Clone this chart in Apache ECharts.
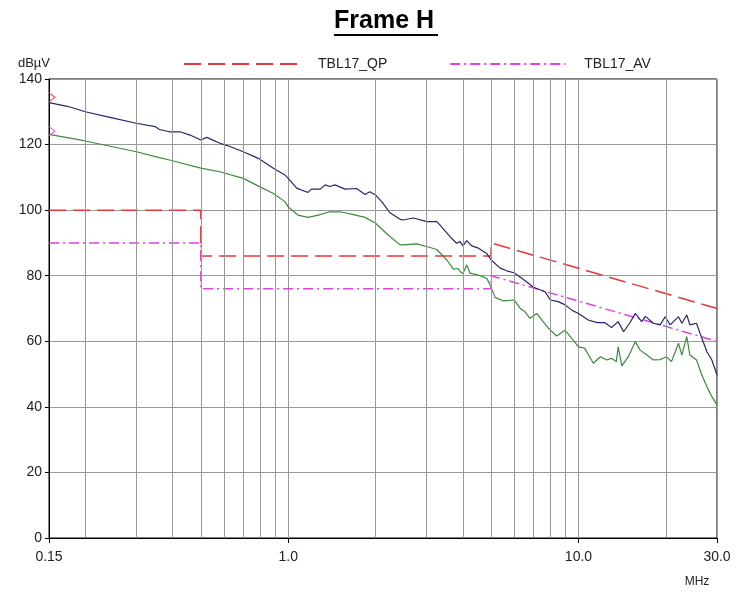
<!DOCTYPE html>
<html>
<head>
<meta charset="utf-8">
<title>Frame H</title>
<script src="https://cdn.jsdelivr.net/npm/echarts@6/dist/echarts.min.js"></script>
<style>
  html, body { margin: 0; padding: 0; background: #fff; }
  #chart { width: 740px; height: 592px; }
</style>
</head>
<body>
<div id="chart"></div>
<script>
// x: frequency (MHz, log), y: level (dBuV)
const xTickLabels = ['0.15', '1.0', '10.0', '30.0'];
const minorFreqs = [0.2, 0.3, 0.4, 0.5, 0.6, 0.7, 0.8, 0.9, 2, 3, 4, 5, 6, 7, 8, 9, 20];

// limit lines
const qpFreq = [0.15, 0.5, 0.5, 5, 5, 30];
const qpLevel = [100, 100, 86, 86, 90, 70];
const avFreq = [0.15, 0.5, 0.5, 5, 5, 30];
const avLevel = [90, 90, 76, 76, 80, 60];

// measured traces
const peakFreq = [0.15, 0.175, 0.2, 0.243, 0.3, 0.348, 0.36, 0.39, 0.424, 0.459, 0.5, 0.524, 0.582, 0.606, 0.63,
  0.7, 0.789, 0.8, 0.889, 0.975, 1.0, 1.07, 1.17, 1.2, 1.29, 1.34, 1.39, 1.45, 1.57, 1.72, 1.84, 1.91, 2.0,
  2.1, 2.24, 2.43, 2.49, 2.7, 3.0, 3.25, 3.33, 3.61, 3.8, 3.91, 4.0, 4.12, 4.29, 4.52, 4.83, 5.0, 5.37, 5.66,
  6.0, 6.38, 6.72, 7.0, 7.67, 8.0, 8.52, 9.0, 9.48, 10.0, 10.8, 11.6, 12.3, 13.0, 13.7, 14.3, 15.0, 15.7,
  16.5, 17.0, 18.1, 19.1, 19.9, 20.7, 22.1, 22.7, 23.6, 24.2, 25.5, 26.6, 27.7, 28.8, 30];
const peakLevel = [132.8, 131.6, 130.0, 128.3, 126.5, 125.5, 124.6, 123.9, 123.9, 122.9, 121.4, 122.2, 120.4, 119.9, 119.4,
  117.8, 115.8, 116.3, 112.8, 110.7, 109.7, 106.7, 105.4, 106.4, 106.4, 107.7, 107.2, 107.7, 106.4, 106.6, 104.8, 105.6, 104.6,
  102.6, 99.2, 97.2, 97.0, 97.6, 96.5, 96.5, 95.5, 91.9, 89.9, 90.4, 89.1, 90.7, 89.1, 88.4, 86.8, 84.8, 82.3, 81.5,
  80.9, 79.2, 77.7, 76.5, 75.1, 72.6, 72.1, 71.1, 69.5, 68.5, 66.5, 65.7, 65.7, 64.2, 66.0, 62.9, 65.5, 68.5,
  66.0, 67.6, 65.5, 65.0, 67.5, 65.0, 67.5, 65.5, 68.0, 65.0, 65.5, 60.9, 56.8, 54.3, 49.7];

const avgFreq = [0.15, 0.2, 0.3, 0.36, 0.39, 0.5, 0.582, 0.7, 0.8, 0.889, 0.975, 1.0, 1.08, 1.17, 1.27, 1.39, 1.51,
  1.65, 1.84, 2.0, 2.21, 2.43, 2.49, 2.77, 3.0, 3.25, 3.52, 3.71, 3.85, 3.91, 4.0, 4.12, 4.23, 4.52, 4.83, 4.96,
  5.16, 5.51, 6.0, 6.29, 6.54, 6.81, 7.18, 7.47, 7.87, 8.41, 8.98, 9.48, 10.0, 10.5, 11.25, 11.9, 12.5, 13.0,
  13.5, 13.7, 14.1, 14.85, 15.7, 16.3, 17.2, 18.1, 19.1, 20.1, 20.9, 22.1, 22.7, 23.6, 24.2, 25.5, 26.6, 27.7, 28.8, 30];
const avgLevel = [123.1, 121.1, 117.8, 116.0, 115.3, 112.8, 111.7, 109.7, 107.1, 105.1, 102.6, 101.0, 98.5, 97.8, 98.5, 99.5, 99.5,
  98.8, 97.8, 96.0, 92.4, 89.4, 89.4, 89.7, 88.9, 88.0, 84.8, 82.0, 82.2, 81.3, 80.7, 83.3, 80.8, 80.2, 79.2, 77.2,
  73.4, 72.3, 72.6, 70.1, 69.0, 67.0, 68.5, 66.5, 64.0, 61.6, 63.4, 60.9, 58.3, 57.9, 53.3, 55.3, 54.3, 54.8,
  53.8, 58.3, 52.5, 55.3, 59.9, 57.3, 55.8, 54.3, 54.4, 55.3, 53.8, 59.4, 55.8, 61.4, 55.8, 54.3, 49.7, 46.1, 43.1, 40.6];

// start markers
const markerQp = [0.15, 134.4];
const markerAv = [0.15, 124.1];

function pairs(xs, ys) {
  return xs.map(function (x, i) { return [x, ys[i]]; });
}

const FONT = '"Liberation Sans", Arial, sans-serif';
const chart = echarts.init(document.getElementById('chart'));

chart.setOption({
  animation: false,
  backgroundColor: '#fff',
  textStyle: { fontFamily: FONT },
  title: {
    text: 'Frame H',
    left: 334,
    top: 9,
    padding: 0,
    textStyle: { fontSize: 25, fontWeight: 'bold', color: '#000', fontFamily: FONT }
  },
  graphic: [{
    type: 'rect',
    shape: { x: 334, y: 34, width: 104, height: 2 },
    style: { fill: '#000' }
  }],
  legend: {
    data: ['TBL17_QP', 'TBL17_AV'],
    left: 183,
    top: 57,
    padding: 0,
    itemWidth: 115,
    itemHeight: 14,
    itemGap: 62,
    itemStyle: { opacity: 0 },
    textStyle: { fontSize: 14, color: '#222', padding: [0, 0, 0, 14] }
  },
  grid: {
    left: 49,
    right: 23,
    top: 79,
    bottom: 54,
    show: true,
    borderColor: '#000',
    borderWidth: 1
  },
  xAxis: {
    type: 'log',
    logBase: 10,
    min: 0.15,
    max: 30,
    name: 'MHz',
    nameLocation: 'end',
    nameGap: -20,
    nameTextStyle: { fontSize: 12, color: '#222', align: 'center', verticalAlign: 'top', padding: [38, 0, 0, 0] },
    axisLine: { lineStyle: { color: '#000', width: 1 } },
    axisTick: { show: true, length: 5, lineStyle: { color: '#000' } },
    axisLabel: {
      fontSize: 14,
      color: '#222',
      margin: 12,
      showMinLabel: true,
      showMaxLabel: true,
      formatter: function (v) {
        if (Math.abs(v - 0.15) < 1e-6) return xTickLabels[0];
        if (Math.abs(v - 1) < 1e-6) return xTickLabels[1];
        if (Math.abs(v - 10) < 1e-6) return xTickLabels[2];
        if (Math.abs(v - 30) < 1e-6) return xTickLabels[3];
        return '';
      }
    },
    splitLine: { show: true, lineStyle: { color: '#999', width: 1 } }
  },
  yAxis: {
    type: 'value',
    min: 0,
    max: 140,
    interval: 20,
    name: 'dBµV',
    nameLocation: 'end',
    nameGap: 9,
    nameTextStyle: { fontSize: 13, color: '#222', align: 'right', padding: [0, -1, 0, 0] },
    axisLine: { show: true, lineStyle: { color: '#000', width: 1 } },
    axisTick: { show: true, length: 4, lineStyle: { color: '#000' } },
    axisLabel: { fontSize: 14, color: '#222', margin: 7 },
    splitLine: { show: true, lineStyle: { color: '#999', width: 1 } }
  },
  series: [
    {
      name: 'grid',
      type: 'line',
      data: [],
      z: 1,
      silent: true,
      markLine: {
        silent: true,
        symbol: ['none', 'none'],
        label: { show: false },
        lineStyle: { color: '#999', type: 'solid', width: 1 },
        emphasis: { disabled: true },
        data: minorFreqs.map(function (f) { return { xAxis: f }; })
      }
    },
    {
      name: 'TBL17_QP',
      type: 'line',
      data: pairs(qpFreq, qpLevel),
      symbol: 'none',
      z: 3,
      lineStyle: { color: '#e5383b', width: 1.5, type: [17, 7] },
      itemStyle: { color: '#e5383b' }
    },
    {
      name: 'TBL17_AV',
      type: 'line',
      data: pairs(avFreq, avLevel),
      symbol: 'none',
      z: 3,
      lineStyle: { color: '#dd44dd', width: 1.5, type: [10, 4, 2, 4] },
      itemStyle: { color: '#dd44dd' }
    },
    {
      name: 'Peak',
      type: 'line',
      data: pairs(peakFreq, peakLevel),
      symbol: 'none',
      z: 4,
      lineStyle: { color: '#26266e', width: 1.2 }
    },
    {
      name: 'Average',
      type: 'line',
      data: pairs(avgFreq, avgLevel),
      symbol: 'none',
      z: 4,
      lineStyle: { color: '#3a8c3a', width: 1.2 }
    },
    {
      name: 'markers',
      type: 'scatter',
      z: 5,
      symbol: 'path://M0,0 L1,0.5 L0,1',
      symbolSize: [6, 9],
      symbolOffset: [3, 0],
      data: [
        { value: markerQp, itemStyle: { color: 'none', borderColor: '#e5383b', borderWidth: 1 } },
        { value: markerAv, itemStyle: { color: 'none', borderColor: '#dd44dd', borderWidth: 1 } }
      ]
    }
  ]
});
</script>
</body>
</html>
